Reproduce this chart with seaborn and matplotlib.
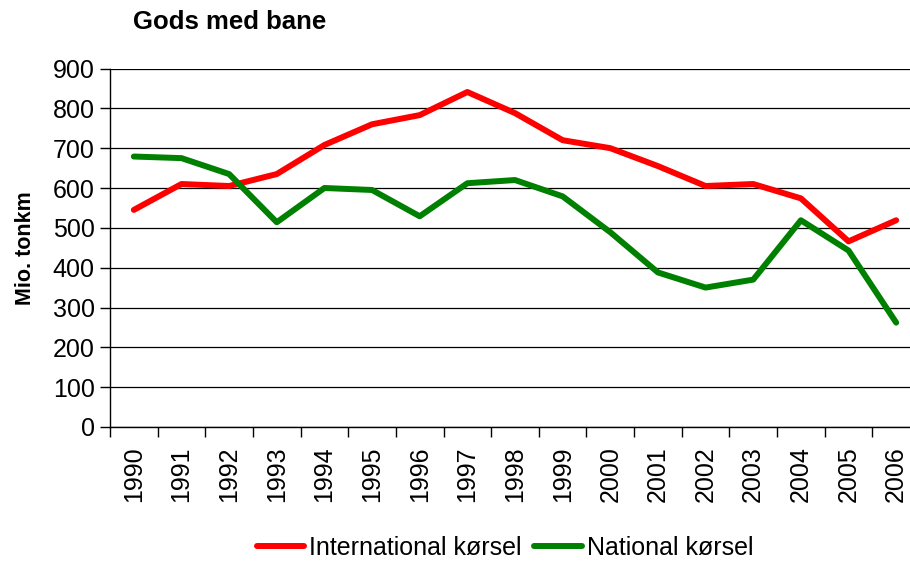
import matplotlib
matplotlib.use("Agg")
import matplotlib.pyplot as plt
import pandas as pd
import seaborn as sns

years = [str(y) for y in range(1990, 2007)]
international = [545, 610, 605, 635, 708, 760, 783, 841, 788, 720, 700, 655, 605, 610, 574, 466, 519]
national = [679, 675, 635, 514, 600, 595, 529, 612, 620, 579, 489, 388, 350, 370, 519, 443, 262]

df = pd.DataFrame({
    "year": years * 2,
    "value": international + national,
    "serie": ["International kørsel"] * len(years) + ["National kørsel"] * len(years),
})

sns.set_theme(style="white")
plt.rcParams["font.family"] = ["Liberation Sans", "DejaVu Sans"]
plt.rcParams["text.color"] = "black"
plt.rcParams["axes.labelcolor"] = "black"
plt.rcParams["xtick.color"] = "black"
plt.rcParams["ytick.color"] = "black"

fig = plt.figure(figsize=(9.1, 5.61), dpi=100)
ax = fig.add_axes([110 / 910, 1 - 427 / 561, 810 / 910, 358.5 / 561])

sns.lineplot(data=df, x="year", y="value", hue="serie",
             palette={"International kørsel": "#ff0000", "National kørsel": "#008000"},
             linewidth=4.3, ax=ax, legend=True, sort=False)

ax.set_ylim(0, 900)
ax.set_xlim(-0.5, len(years) - 0.5)
ax.set_yticks(range(0, 901, 100))
ax.yaxis.grid(True, color="black", linewidth=0.9)
ax.set_axisbelow(True)
for s in ["top", "right"]:
    ax.spines[s].set_visible(False)
for s in ["left", "bottom"]:
    ax.spines[s].set_color("black")
    ax.spines[s].set_linewidth(1.0)

# category ticks sit between years, like the original
ax.set_xticks([i - 0.5 for i in range(len(years) + 1)], minor=True)
ax.set_xticks(range(len(years)))
ax.set_xticklabels(years, rotation=90, fontsize=18)
ax.tick_params(axis="x", which="major", length=0, pad=14)
ax.tick_params(axis="x", which="minor", length=7, width=1, color="black", direction="out", bottom=True)
ax.tick_params(axis="y", length=7, width=1, color="black", direction="out", left=True, labelsize=18, pad=4)

ax.set_xlabel("")
ax.set_ylabel("Mio. tonkm", fontsize=15.5, fontweight="bold", labelpad=12)
fig.text(133 / 910, 1 - 22 / 561, "Gods med bane", fontsize=18.5, fontweight="bold",
         ha="left", va="center")

ax.legend(loc="center", ncol=2, frameon=False, fontsize=18,
          handlelength=1.9, handletextpad=0.2, columnspacing=0.5)
leg = ax.get_legend()
leg.set_bbox_to_anchor((505 / 910, 1 - 548 / 561), transform=fig.transFigure)

fig.savefig("out.png", dpi=100, facecolor="white")
